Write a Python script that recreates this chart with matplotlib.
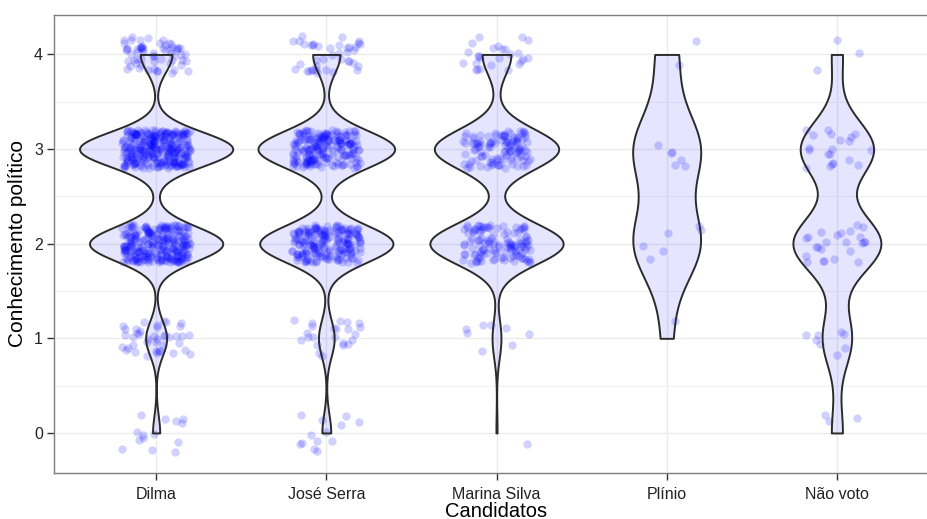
import numpy as np
import matplotlib.pyplot as plt

plt.rcParams['font.family'] = ['Liberation Sans', 'DejaVu Sans']

candidatos = ["Dilma", "José Serra", "Marina Silva", "Plínio", "Não voto"]
niveis = [0, 1, 2, 3, 4]

# respondents per knowledge level (0..4) for each candidate
dilma = [14, 41, 261, 300, 62]
jose_serra = [13, 23, 195, 200, 40]
marina_silva = [1, 8, 120, 112, 26]
plinio = [0, 1, 6, 6, 2]
nao_voto = [3, 8, 24, 20, 3]

contagens = [dilma, jose_serra, marina_silva, plinio, nao_voto]


def bw_nrd0(x):
    q75, q25 = np.percentile(x, [75, 25])
    lo = min(np.std(x, ddof=1), (q75 - q25) / 1.34)
    return 0.9 * lo * len(x) ** -0.2


def densidade(x):
    bw = bw_nrd0(x)
    grid = np.linspace(x.min(), x.max(), 512)
    z = (grid[:, None] - x[None, :]) / bw
    d = np.exp(-0.5 * z ** 2).sum(axis=1) / (len(x) * bw * np.sqrt(2 * np.pi))
    return grid, d


fig = plt.figure(figsize=(9.27, 5.19), dpi=100)
ax = fig.add_axes([54 / 927, 46.3 / 519, 885 / 927, 458 / 519])

rng = np.random.default_rng(7)
dens = []
for i, cont in enumerate(contagens):
    valores = np.repeat(niveis, cont).astype(float)
    pos = i + 1
    jx = pos + rng.uniform(-0.2, 0.2, len(valores))
    jy = valores + rng.uniform(-0.2, 0.2, len(valores))
    ax.scatter(jx, jy, s=36, color='blue', alpha=0.18, linewidths=0, zorder=2)
    dens.append(densidade(valores))

# violins scaled to equal area: widest density gets width 0.9
dmax = max(d.max() for _, d in dens)
for i, (grid, d) in enumerate(dens):
    pos = i + 1
    w = 0.45 * d / dmax
    ax.fill_betweenx(grid, pos - w, pos + w, facecolor=(0, 0, 1, 0.1),
                     edgecolor='#2b2b2b', linewidth=1.4, zorder=3)

ax.set_xlim(0.4, 5.6)
ax.set_ylim(-0.42, 4.42)
ax.set_xticks(range(1, 6))
ax.set_xticklabels(candidatos)
ax.set_yticks(niveis)
ax.set_yticks([0.5, 1.5, 2.5, 3.5], minor=True)
ax.tick_params(axis='both', which='major', labelsize=11.5, length=5, width=1,
               color='#333333', labelcolor='#222222')
ax.tick_params(axis='x', pad=5)
ax.tick_params(axis='y', pad=3)
ax.tick_params(axis='y', which='minor', length=0)

ax.grid(True, which='major', color='#ebebeb', linewidth=1, zorder=0)
ax.grid(True, which='minor', axis='y', color='#f2f2f2', linewidth=0.8, zorder=0)
ax.set_axisbelow(True)
for s in ax.spines.values():
    s.set_color('#7f7f7f')
    s.set_linewidth(1)
ax.spines['right'].set_visible(False)

ax.set_xlabel("Candidatos", fontsize=14.5, labelpad=0)
ax.set_ylabel("Conhecimento político", fontsize=15, labelpad=5)

fig.savefig("out.png", dpi=100)
